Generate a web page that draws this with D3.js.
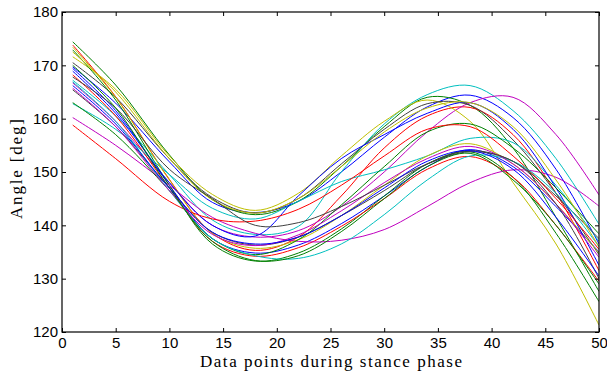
<!DOCTYPE html>
<html>
<head>
<meta charset="utf-8">
<script src="https://cdn.jsdelivr.net/npm/d3@7"></script>
<style>
  body { margin: 0; background: #fff; }
  svg { display: block; }
</style>
</head>
<body>
<svg id="chart" width="607" height="374"></svg>
<script>
// sample positions along the stance phase
const xKnots = [1, 5, 10, 14, 18, 22, 26, 30, 34, 38, 42, 46, 50];

const trialColors = [
  "#0000ff", "#008000", "#ff0000", "#00bfbf", "#bf00bf", "#bfbf00", "#404040",
  "#0000ff", "#008000", "#ff0000", "#00bfbf", "#bf00bf", "#bfbf00", "#404040",
  "#0000ff", "#008000", "#ff0000", "#00bfbf", "#bf00bf", "#bfbf00", "#404040",
  "#008000", "#0000ff"
];

const trials = [
  [169.7, 162.9, 151.9, 144.3, 142.4, 144.5, 150.0, 156.5, 162.2, 164.4, 160.2, 150.5, 136.5],
  [174.4, 166.3, 153.2, 144.8, 142.0, 144.5, 151.0, 158.5, 164.0, 162.5, 154.5, 141.5, 127.6],
  [173.8, 164.1, 148.6, 138.5, 135.3, 137.8, 145.5, 154.5, 160.5, 162.1, 157.0, 146.0, 131.5],
  [167.2, 160.5, 149.5, 141.0, 138.3, 139.8, 150.0, 159.0, 164.5, 166.2, 161.5, 152.5, 140.2],
  [166.7, 159.5, 148.0, 140.0, 137.8, 139.0, 143.5, 150.0, 157.5, 163.0, 164.0, 157.0, 145.7],
  [171.6, 165.5, 153.0, 145.8, 142.8, 146.0, 153.0, 159.5, 163.5, 159.5, 148.0, 136.5, 121.3],
  [170.5, 164.0, 152.5, 145.2, 142.3, 145.0, 151.5, 158.0, 162.8, 162.5, 156.0, 146.0, 134.5],
  [169.4, 161.5, 147.5, 137.5, 134.8, 136.3, 140.3, 145.5, 151.0, 154.2, 151.0, 143.5, 135.0],
  [172.9, 163.5, 147.5, 136.5, 133.3, 134.8, 139.3, 145.5, 151.5, 153.8, 149.0, 138.5, 125.7],
  [168.2, 160.5, 147.0, 137.0, 134.2, 135.8, 139.8, 145.0, 150.5, 152.9, 149.0, 140.0, 129.5],
  [162.8, 158.0, 149.5, 143.2, 141.2, 144.5, 148.2, 150.4, 153.0, 156.3, 155.5, 147.5, 137.0],
  [160.2, 155.0, 147.5, 141.5, 138.5, 137.0, 137.2, 139.2, 143.5, 148.0, 150.4, 149.0, 143.6],
  [173.4, 164.0, 148.5, 138.5, 135.7, 137.3, 141.8, 147.5, 153.0, 155.3, 151.5, 144.0, 134.8],
  [165.4, 158.5, 147.0, 138.7, 136.3, 137.8, 141.8, 146.5, 151.5, 154.0, 152.0, 145.5, 137.5],
  [168.9, 161.0, 148.0, 140.0, 138.0, 145.5, 152.5, 157.0, 161.0, 163.0, 158.0, 147.0, 132.5],
  [163.0, 157.0, 146.5, 137.5, 134.5, 137.3, 143.8, 151.0, 157.5, 159.0, 154.5, 147.0, 138.4],
  [158.8, 152.5, 144.5, 141.2, 140.8, 143.0, 147.5, 153.0, 158.0, 158.5, 153.0, 145.0, 135.5],
  [166.9, 159.5, 146.5, 137.5, 134.3, 133.8, 136.5, 142.0, 148.5, 153.0, 152.0, 146.0, 136.0],
  [165.7, 158.5, 146.5, 138.3, 136.2, 138.2, 142.7, 148.0, 152.5, 154.8, 151.5, 144.0, 134.0],
  [172.5, 165.0, 152.5, 144.8, 142.3, 145.0, 151.0, 157.5, 162.0, 163.0, 158.5, 148.5, 136.0],
  [167.8, 162.0, 150.5, 145.0, 140.0, 140.5, 143.5, 147.5, 151.5, 153.8, 152.0, 144.0, 130.0],
  [170.0, 162.0, 147.0, 137.0, 133.4, 134.3, 138.8, 145.0, 151.0, 153.5, 148.5, 140.0, 129.0],
  [166.2, 159.0, 147.0, 138.7, 136.5, 137.8, 141.8, 147.0, 152.0, 154.0, 150.5, 141.5, 130.5]
];

const xTicks = [0, 5, 10, 15, 20, 25, 30, 35, 40, 45, 50];
const yTicks = [120, 130, 140, 150, 160, 170, 180];

const margin = { top: 12, right: 8, bottom: 42, left: 62 };
const width = 607, height = 374;
const innerW = width - margin.left - margin.right;
const innerH = height - margin.top - margin.bottom;

const svg = d3.select("#chart");
const g = svg.append("g").attr("transform", `translate(${margin.left},${margin.top})`);

const x = d3.scaleLinear().domain([0, 50]).range([0, innerW]);
const y = d3.scaleLinear().domain([120, 180]).range([innerH, 0]);

svg.append("defs").append("clipPath").attr("id", "plotclip")
  .append("rect").attr("width", innerW).attr("height", innerH);

const line = d3.line()
  .x((d, i) => x(xKnots[i]))
  .y(d => y(d))
  .curve(d3.curveCatmullRom.alpha(0.5));

g.append("g").attr("clip-path", "url(#plotclip)")
  .selectAll("path")
  .data(trials)
  .enter()
  .append("path")
  .attr("d", line)
  .attr("fill", "none")
  .attr("stroke", (d, i) => trialColors[i])
  .attr("stroke-width", 1);

const tickFont = "'Liberation Sans', Arial, sans-serif";

const styleAxis = sel => {
  sel.select(".domain").remove();
  sel.selectAll("line").attr("stroke", "#000");
  sel.selectAll("text").attr("font-family", tickFont).attr("font-size", 15).attr("fill", "#000");
};

g.append("g").attr("transform", `translate(0,${innerH})`)
  .call(d3.axisBottom(x).tickValues(xTicks).tickSizeInner(-4).tickSizeOuter(0).tickPadding(5))
  .call(styleAxis);
g.append("g")
  .call(d3.axisLeft(y).tickValues(yTicks).tickSizeInner(-4).tickSizeOuter(0).tickPadding(4))
  .call(styleAxis);
g.append("g")
  .call(d3.axisTop(x).tickValues(xTicks).tickSizeInner(-4).tickSizeOuter(0).tickFormat(""))
  .call(styleAxis);
g.append("g").attr("transform", `translate(${innerW},0)`)
  .call(d3.axisRight(y).tickValues(yTicks).tickSizeInner(-4).tickSizeOuter(0).tickFormat(""))
  .call(styleAxis);

g.append("rect")
  .attr("width", innerW).attr("height", innerH)
  .attr("fill", "none").attr("stroke", "#000").attr("stroke-width", 1.2);

const labelFont = "'Liberation Serif', 'DejaVu Serif', serif";

svg.append("text")
  .attr("x", 331)
  .attr("y", 367)
  .attr("text-anchor", "middle")
  .attr("font-family", labelFont)
  .attr("font-size", 17)
  .attr("textLength", 262)
  .attr("lengthAdjust", "spacing")
  .text("Data points during stance phase");

svg.append("text")
  .attr("transform", "translate(22,169) rotate(-90)")
  .attr("text-anchor", "middle")
  .attr("font-family", labelFont)
  .attr("font-size", 17)
  .attr("textLength", 100)
  .attr("lengthAdjust", "spacing")
  .text("Angle [deg]");
</script>
</body>
</html>
